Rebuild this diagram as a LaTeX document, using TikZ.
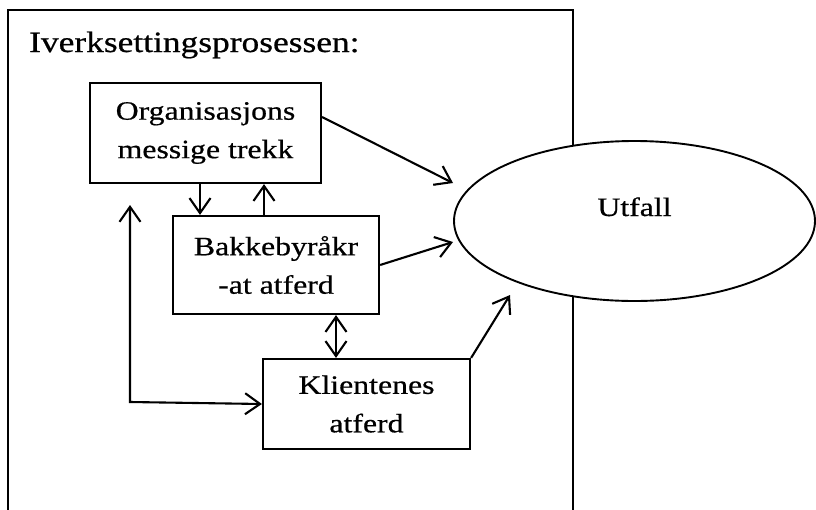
\documentclass[tikz,border=0pt]{standalone}
\usepackage{fontspec}
\setmainfont{Liberation Serif}[FakeStretch=1.2,FakeBold=0.6]
\usetikzlibrary{arrows.meta,shapes.geometric}
\tikzset{
  boxnode/.style={draw, line width=2.2pt, align=center, inner sep=0pt,
    font=\fontsize{26.5}{38.5}\selectfont},
  arr/.style={line width=2.1pt, -{Straight Barb[length=15pt,width=21pt]}},
  darr/.style={line width=2.1pt, {Straight Barb[length=15pt,width=21pt]}-{Straight Barb[length=15pt,width=21pt]}},
  frame/.style={line width=2.2pt},
}
\begin{document}
\begin{tikzpicture}[x=1pt,y=-1pt]
\useasboundingbox (0,0) rectangle (816,509);
\fill[white] (0,0) rectangle (816,509);
% outer frame
\draw[frame] (8,515) -- (8,10) -- (573,10) -- (573,515);
\node[anchor=base west, inner sep=0pt, font=\fontsize{29.5}{34}\selectfont] (title) at (29,52) {Iverksettingsprosessen:};
% boxes
\node[boxnode, minimum width=231pt, minimum height=100pt] (org) at (205.5,133) {Organisasjons\\messige trekk};
\node[boxnode, minimum width=206pt, minimum height=98pt] (bak) at (276,265) {Bakkebyråkr\\-at atferd};
\node[boxnode, minimum width=207pt, minimum height=90pt] (kli) at (366.5,404) {Klientenes\\atferd};
% ellipse
\node[ellipse, draw, fill=white, line width=1.9pt, minimum width=361pt, minimum height=160pt,
  inner sep=0pt, text height=18pt, text depth=28pt, font=\fontsize{26.5}{30}\selectfont] (ut) at (634.5,221) {Utfall};
% free ends
\coordinate (t1) at (453,183);
\coordinate (t2) at (453,242);
\coordinate (t3) at (510,295);
\coordinate (lt) at (130,205);
\coordinate (lc) at (130,402);
% connectors
\draw[arr] ([yshift=16pt]org.east) -- (t1);
\draw[arr] (bak.east) -- (t2);
\draw[arr] (kli.north east) -- (t3);
\draw[arr] ([xshift=-5.5pt]org.south) -- ([xshift=-76pt]bak.north);
\draw[arr] ([xshift=-12pt]bak.north) -- ([xshift=58.5pt]org.south);
\draw[darr] ([xshift=60pt]bak.south) -- ([xshift=-30.5pt]kli.north);
\draw[darr] (lt) -- (lc) -- (kli.west);
\end{tikzpicture}
\end{document}
